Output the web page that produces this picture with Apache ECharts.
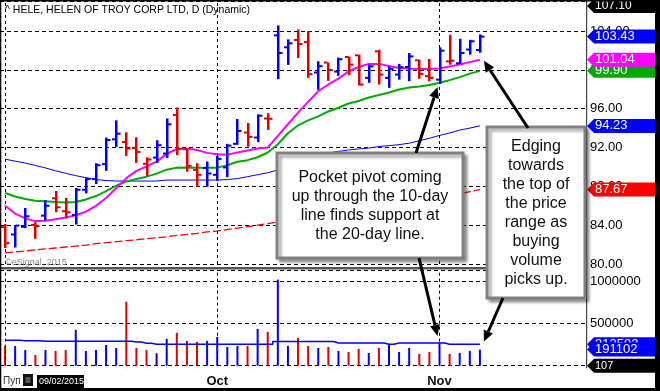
<!DOCTYPE html>
<html><head><meta charset="utf-8">
<script src="https://cdn.jsdelivr.net/npm/echarts@6/dist/echarts.min.js"></script>
<style>html,body{margin:0;padding:0;background:#fff}#c{width:660px;height:391px}</style>
</head><body><div id="c"></div>
<script>
// ---- data ----
const dates = ['2015-09-01','2015-09-02','2015-09-03','2015-09-04','2015-09-08','2015-09-09','2015-09-10','2015-09-11','2015-09-14','2015-09-15','2015-09-16','2015-09-17','2015-09-18','2015-09-21','2015-09-22','2015-09-23','2015-09-24','2015-09-25','2015-09-28','2015-09-29','2015-09-30',
'2015-10-01','2015-10-02','2015-10-05','2015-10-06','2015-10-07','2015-10-08','2015-10-09','2015-10-12','2015-10-13','2015-10-14','2015-10-15','2015-10-16','2015-10-19','2015-10-20','2015-10-21','2015-10-22','2015-10-23','2015-10-26','2015-10-27','2015-10-28','2015-10-29','2015-10-30',
'2015-11-02','2015-11-03','2015-11-04','2015-11-05','2015-11-06'];
const futureSlots = ['f1','f2','f3','f4','f5','f6','f7','f8','f9','f10'];
const opens  = [83.8,83.04,83.83,84.03,84.98,86.77,85.44,85.06,87.65,88.75,90.29,92.85,92.57,91.96,90.32,90.97,91.38,95.35,91.83,89.70,89.88,89.19,89.95,92.38,93.54,93.03,94.99,103.56,102.33,103.08,102.87,99.73,100.76,99.83,101.33,101.50,99.18,101.91,99.18,99.52,100.30,100.99,99.35,99.00,100.88,100.68,102.10,102.05];
const highs  = [84.13,84.03,85.77,84.31,86.60,87.52,86.80,87.83,88.88,90.39,93.03,94.80,93.57,93.06,91.00,92.75,95.00,96.13,91.90,90.39,90.56,91.14,92.38,94.94,94.53,95.42,95.53,104.58,103.15,104.17,104.00,100.89,100.76,101.27,101.37,101.57,100.54,102.08,100.37,100.62,101.74,101.06,101.13,102.32,103.62,103.21,103.10,103.66];
const lows   = [81.64,81.70,83.69,82.60,84.47,85.33,84.72,84.06,87.28,88.24,89.60,92.06,91.14,90.42,89.09,90.42,90.93,91.21,89.50,87.96,87.96,88.57,88.95,92.28,92.10,92.55,93.82,99.05,100.51,101.23,99.18,97.95,98.87,99.38,99.45,98.39,98.67,98.49,98.15,99.00,98.83,99.08,98.83,98.56,100.54,100.62,101.57,101.77];
const closes = [82.15,83.96,84.92,83.90,86.00,85.85,85.33,87.65,88.75,90.18,92.78,93.43,91.90,91.55,90.77,92.24,94.39,91.83,90.11,89.19,89.33,90.83,92.20,93.71,93.10,95.28,94.96,101.74,102.74,102.67,99.56,100.38,100.00,101.10,100.54,98.49,100.37,99.52,100.10,100.27,101.39,99.59,99.18,101.98,100.95,101.74,102.95,103.43];
const ma10  = [86.0,85.2,84.7,84.42,84.45,84.62,84.78,85.02,85.4,86.0,86.8,87.8,88.85,89.6,90.05,90.55,91.35,91.85,91.9,91.75,91.45,91.3,91.25,91.5,91.7,91.9,92.0,93.2,94.4,95.6,96.7,97.8,98.5,99.1,99.85,100.3,100.62,100.62,100.4,100.2,100.12,100.1,100.1,100.15,100.35,100.55,100.8,101.04];
const ma20  = [87.31,86.95,86.7,86.52,86.46,86.39,86.34,86.39,86.65,87.0,87.52,88.08,88.49,88.75,89.0,89.31,89.72,89.93,89.95,89.93,89.91,89.93,90.18,90.54,90.7,91.0,91.49,92.34,93.47,94.29,94.8,95.21,95.72,96.1,96.54,96.8,97.16,97.42,97.67,97.98,98.18,98.29,98.44,98.67,98.95,99.26,99.62,99.90];
const ma50  = [90.8,90.6,90.4,90.15,89.9,89.6,89.35,89.1,88.9,88.7,88.6,88.55,88.55,88.55,88.55,88.55,88.65,88.65,88.65,88.65,88.65,88.65,88.7,88.8,89.0,89.2,89.4,89.7,90.1,90.5,90.9,91.2,91.45,91.6,91.75,91.85,91.95,92.1,92.2,92.3,92.45,92.7,92.95,93.25,93.5,93.8,94.0,94.23];
const ma200 = [81.15,81.25,81.35,81.45,81.55,81.65,81.75,81.85,81.95,82.1,82.2,82.3,82.4,82.5,82.6,82.7,82.8,82.95,83.05,83.15,83.3,83.4,83.55,83.7,83.85,84.0,84.15,84.35,84.5,84.65,84.8,84.95,85.1,85.25,85.4,85.55,85.7,85.85,86.0,86.15,86.3,86.45,86.65,86.85,87.05,87.25,87.45,87.67];
const volumes = [234000,234000,187000,127000,187000,175000,187000,425000,175000,187000,246000,210000,758000,210000,187000,147000,318000,389000,294000,282000,294000,341000,222000,234000,234000,436000,401000,1020000,234000,330000,234000,210000,222000,175000,163000,199000,151000,210000,258000,163000,210000,139000,163000,270000,139000,151000,175000,191102];
const volMA = [302000,302000,296000,296000,290000,290000,290000,290000,290000,290000,290000,290000,290000,280000,267000,255000,255000,255000,255000,255000,255000,255000,255000,255000,255000,255000,255000,286000,286000,286000,286000,286000,286000,270000,270000,270000,270000,270000,255000,270000,270000,270000,270000,270000,255000,255000,255000,255000];
const priceTicks = [80,84,88,92,96,100,104];
const volTicks = [0,500000,1000000];
const monthLabels = {'2015-10-01':'Oct','2015-11-02':'Nov'};
const titleText = '^ HELE, HELEN OF TROY CORP LTD, D (Dynamic)';
const note1 = ['Pocket pivot coming','up through the 10-day','line finds support at','the 20-day line.'];
const note2 = ['Edging','towards','the top of','the price','range as','buying','volume','picks up.'];

// ---- styles ----
const BLUE='#0000ff', RED='#e00000', MAG='#ff00ff', GRN='#00aa00';
const FONT="'Liberation Sans', Arial, sans-serif";
const cats = dates.concat(futureSlots);
const up = closes.map((c,i)=> i===0 ? c>=opens[0] : c>=closes[i-1]);
const ohlc = closes.map((c,i)=>[i,opens[i],highs[i],lows[i],c,up[i]?1:0]);
const vLines = [dates.indexOf('2015-09-01'),dates.indexOf('2015-10-01'),dates.indexOf('2015-11-02')];
const dashV = {type:[3,3],color:'#000',width:1};

const chart = echarts.init(document.getElementById('c'),null,{renderer:'canvas'});
const option = {
  animation:false,
  backgroundColor:'#fff',
  grid:[{left:-2,right:74,top:1,height:263},{left:-2,right:74,top:270,height:95.7}],
  xAxis:[
    {type:'category',gridIndex:0,data:cats,boundaryGap:true,axisLine:{show:false},axisTick:{show:false},axisLabel:{show:false},splitLine:{show:false}},
    {type:'category',gridIndex:1,data:cats,boundaryGap:true,axisLine:{show:false},axisTick:{show:false},
     axisLabel:{interval:(i,v)=>!!monthLabels[v],formatter:v=>monthLabels[v]||'',fontFamily:FONT,fontSize:13,fontWeight:'bold',color:'#111',margin:9},
     splitLine:{show:false}}
  ],
  yAxis:[
    {type:'value',gridIndex:0,position:'right',min:80,max:107.1,interval:4,
     axisLine:{show:false},axisTick:{show:false},
     axisLabel:{showMaxLabel:false,formatter:v=>v.toFixed(2),fontFamily:FONT,fontSize:13,color:'#000',margin:4},
     splitLine:{show:true,lineStyle:{type:[4,3],color:'#000',width:1}}},
    {type:'value',gridIndex:1,position:'right',min:0,max:1134000,interval:500000,
     axisLine:{show:false},axisTick:{show:false},
     axisLabel:{showMaxLabel:false,showMinLabel:false,formatter:v=>String(v),fontFamily:FONT,fontSize:13,color:'#000',margin:4},
     splitLine:{show:true,lineStyle:{type:[4,3],color:'#000',width:1}}}
  ],
  series:[
    {type:'line',xAxisIndex:0,yAxisIndex:0,data:ma200,symbol:'none',lineStyle:{color:'#ff0000',width:1.3,type:[8,3]},z:2,
     markLine:{silent:true,symbol:'none',label:{show:false},lineStyle:dashV,data:vLines.map(i=>({xAxis:i}))}},
    {type:'line',xAxisIndex:0,yAxisIndex:0,data:ma50,symbol:'none',lineStyle:{color:BLUE,width:1},z:2},
    {type:'line',xAxisIndex:0,yAxisIndex:0,data:ma20,symbol:'none',lineStyle:{color:GRN,width:2},z:3},
    {type:'line',xAxisIndex:0,yAxisIndex:0,data:ma10,symbol:'none',lineStyle:{color:MAG,width:2},z:3},
    {type:'custom',xAxisIndex:0,yAxisIndex:0,data:ohlc,z:5,
     encode:{x:0,y:[1,2,3,4]},
     renderItem:(params,api)=>{
       const i=api.value(0);
       const o=api.coord([i,api.value(1)]), h=api.coord([i,api.value(2)]), l=api.coord([i,api.value(3)]), c=api.coord([i,api.value(4)]);
       const col=api.value(5)?BLUE:RED;
       const x=Math.round(h[0]);
       return {type:'group',children:[
         {type:'rect',shape:{x:x-1,y:h[1],width:2.5,height:Math.max(1,l[1]-h[1])},style:{fill:col}},
         {type:'rect',shape:{x:x-4,y:o[1]-1,width:3.5,height:2},style:{fill:col}},
         {type:'rect',shape:{x:x+1,y:c[1]-1,width:3.5,height:2},style:{fill:col}}
       ]};
     }},
    {type:'bar',xAxisIndex:1,yAxisIndex:1,barWidth:2,z:3,
     data:volumes.map((v,i)=>({value:v,itemStyle:{color:up[i]?BLUE:RED}})),
     markLine:{silent:true,symbol:'none',label:{show:false},lineStyle:dashV,data:vLines.map(i=>({xAxis:i}))}},
    {type:'line',xAxisIndex:1,yAxisIndex:1,data:volMA,step:'middle',symbol:'none',lineStyle:{color:BLUE,width:1.5},z:4}
  ]
};
chart.setOption(option);

// ---- annotations (positions from the chart's own scales) ----
function py(v){return chart.convertToPixel({yAxisIndex:0},v);}
function vy(v){return chart.convertToPixel({yAxisIndex:1},v);}
function px(i){return chart.convertToPixel({xAxisIndex:0},i);}
let tz=100;
function tag(y,text,bg,fs){
  const X0=587,X1=655,h=7; tz+=2;
  return [
    {type:'polygon',z:tz,shape:{points:[[X0,y],[X0+7,y-h],[X1,y-h],[X1,y+h],[X0+7,y+h]]},style:{fill:bg}},
    {type:'text',z:tz+1,x:X0+8,y:y,style:{text:text,fill:'#fff',font:(fs||13)+'px '+FONT,verticalAlign:'middle',align:'left'}}
  ];
}
function arrow(x1,y1,x2,y2){
  const dx=x2-x1, dy=y2-y1, L=Math.hypot(dx,dy), ux=dx/L, uy=dy/L, nx=-uy, ny=ux;
  const bx=x2-ux*11, by=y2-uy*11;
  return [
    {type:'line',z:140,shape:{x1:x1,y1:y1,x2:bx,y2:by},style:{stroke:'#000',lineWidth:3}},
    {type:'polygon',z:140,shape:{points:[[x2,y2],[bx+nx*5,by+ny*5],[bx-nx*5,by-ny*5]]},style:{fill:'#000'}}
  ];
}
function box(x,y,w,h,lines,cx,y0,lh){
  const ch=[{type:'rect',z:130,shape:{x:x,y:y,width:w,height:h},style:{fill:'#fff',stroke:'#808080',lineWidth:3,shadowColor:'rgba(0,0,0,0.35)',shadowBlur:3,shadowOffsetX:3,shadowOffsetY:3}}];
  lines.forEach((t,k)=>ch.push({type:'text',z:131,x:cx,y:y0+k*lh,style:{text:t,fill:'#111',font:'16px '+FONT,align:'center',verticalAlign:'middle'}}));
  return ch;
}
const last=closes.length-1;
const pivot=dates.indexOf('2015-11-02');
let g=[];
// frame
g.push({type:'rect',z:90,shape:{x:0,y:267,width:587,height:2.5},style:{fill:'#555'}});
g.push({type:'rect',z:90,shape:{x:586,y:0,width:1.2,height:368},style:{fill:'#444'}});
// texts
g.push({type:'text',z:95,x:5,y:5,style:{text:titleText,fill:'#000',font:'10.5px '+FONT}});
g.push({type:'text',z:95,x:5,y:258,style:{text:'\u00a9eSignal, 2015',fill:'#8a8a8a',font:'9px '+FONT}});
g.push({type:'text',z:95,x:3,y:376,style:{text:'\u041f\u0443\u043f',fill:'#334',font:'10px '+FONT}});
g.push({type:'rect',z:95,shape:{x:23,y:374,width:10,height:12},style:{fill:'#111'}});
g.push({type:'rect',z:96,shape:{x:25.5,y:377,width:5,height:6},style:{fill:'#555'}});
g.push({type:'rect',z:95,shape:{x:37,y:375,width:47,height:13},style:{fill:'#000'}});
g.push({type:'text',z:96,x:39,y:381.5,style:{text:'09/02/2015',fill:'#fff',font:'9px '+FONT,verticalAlign:'middle'}});
// tags
g=g.concat(tag(6,'107.10','#000',12));
g=g.concat(tag(py(ma20[last]),'99.90',GRN));
g=g.concat(tag(py(ma10[last]),'101.04',MAG));
g=g.concat(tag(py(closes[last]),'103.43',BLUE));
g=g.concat(tag(py(ma50[last]),'94.23',BLUE));
g=g.concat(tag(py(ma200[last]),'87.67','#ff0000'));
g=g.concat(tag(vy(volMA[last]),'212593',BLUE));
g=g.concat(tag(vy(volumes[last]),'191102',BLUE));
g=g.concat(tag(vy(0),'107','#000',11));
// callouts
g=g.concat(box(277,153,186,105,note1,370,178,19));
g=g.concat(box(487,127,98,171,note2,536,147,19));
// arrows
g=g.concat(arrow(416,153,px(pivot)-2,py(lows[pivot])+3));
g=g.concat(arrow(419,258,px(pivot)-2,vy(volumes[pivot])-7));
g=g.concat(arrow(528,128,px(last)+4,py(ma10[last])+1));
g=g.concat(arrow(503,298,px(last)+4,vy(volumes[last])-8));
// outer border
g.push({type:'rect',z:200,shape:{x:0,y:0,width:660,height:1.5},style:{fill:'#000'}});
g.push({type:'rect',z:200,shape:{x:0,y:0,width:1.3,height:391},style:{fill:'#000'}});
g.push({type:'rect',z:200,shape:{x:655,y:0,width:5,height:391},style:{fill:'#000'}});
g.push({type:'rect',z:200,shape:{x:0,y:388,width:660,height:3},style:{fill:'#000'}});
chart.setOption({graphic:g});
</script></body></html>
